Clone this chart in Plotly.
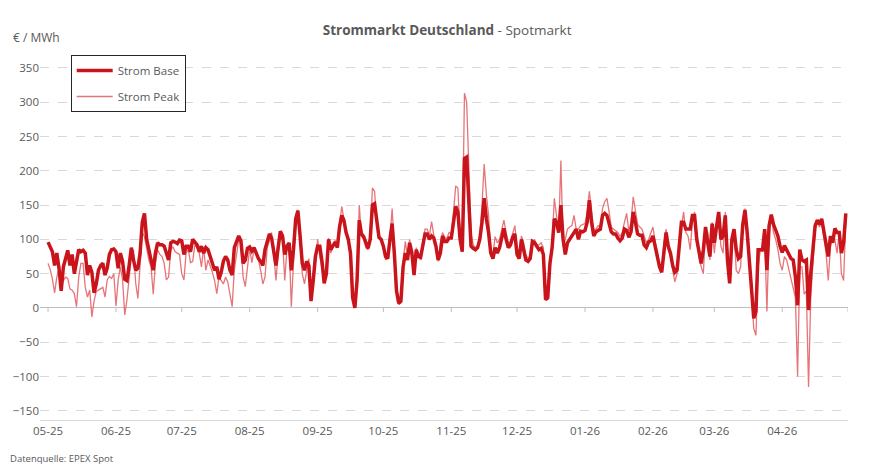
import plotly.graph_objects as go
import pandas as pd

# Tageswerte 01.05.2025 - 30.04.2026 (EUR/MWh)
start_date = "2025-05-01"

strom_base = [
    96, 90, 82, 62, 80, 58, 25, 60, 75, 84, 62, 78, 50, 70, 85, 82, 84, 80, 48, 62,
    52, 22, 35, 55, 62, 65, 48, 58, 78, 85, 86, 82, 58, 80, 68, 42, 40, 62, 88, 70,
    55, 58, 80, 125, 138, 100, 85, 65, 55, 80, 95, 92, 92, 90, 78, 70, 95, 97, 96, 94,
    99, 98, 78, 90, 90, 82, 100, 96, 92, 82, 90, 80, 88, 85, 75, 65, 55, 60, 42, 52,
    68, 75, 70, 55, 48, 88, 95, 105, 98, 65, 70, 87, 89, 83, 88, 80, 72, 68, 62, 85,
    98, 108, 102, 80, 62, 88, 112, 105, 78, 90, 95, 55, 85, 130, 142, 105, 65, 55, 68, 62,
    10, 40, 75, 90, 90, 68, 36, 50, 100, 85, 92, 96, 88, 118, 135, 128, 110, 100, 80, 15,
    0, 40, 128, 108, 104, 95, 87, 100, 150, 152, 125, 103, 100, 90, 75, 72, 100, 123, 80, 25,
    7, 10, 60, 80, 70, 95, 80, 48, 85, 75, 74, 90, 108, 108, 100, 105, 102, 90, 70, 80,
    105, 97, 97, 102, 102, 125, 148, 140, 100, 82, 218, 220, 160, 90, 87, 85, 88, 100, 125, 160,
    130, 110, 80, 72, 88, 80, 88, 100, 116, 100, 88, 92, 103, 108, 78, 72, 100, 85, 70, 68,
    72, 97, 95, 90, 85, 87, 78, 12, 15, 65, 88, 130, 125, 110, 150, 100, 78, 95, 100, 103,
    110, 115, 100, 112, 111, 113, 125, 157, 125, 105, 111, 113, 115, 135, 138, 135, 125, 111, 108, 108,
    102, 98, 102, 115, 113, 103, 111, 140, 125, 108, 106, 106, 92, 88, 96, 98, 105, 90, 80, 60,
    52, 85, 110, 90, 80, 62, 52, 55, 90, 125, 125, 115, 115, 115, 135, 135, 100, 80, 65, 85,
    118, 95, 75, 123, 95, 118, 140, 100, 105, 135, 70, 36, 100, 115, 85, 72, 75, 122, 143, 110,
    65, 25, -15, -5, 85, 85, 85, 115, 55, 120, 136, 122, 113, 105, 90, 81, 91, 85, 78, 72,
    70, 45, 4, 85, 70, 68, 70, -3, 50, 80, 120, 128, 122, 130, 110, 90, 75, 105, 95, 116,
    110, 110, 80, 95, 138,
]

strom_peak = [
    65, 56, 42, 22, 45, 58, 30, 40, 45, 43, 28, 26, 21, 2, 45, 65, 65, 30, 16, 26,
    -13, 10, 24, 26, 28, 30, 16, 41, 46, 43, 50, 3, 41, 60, 41, -10, 12, 45, 75, 85,
    36, 14, 55, 110, 104, 88, 70, 60, 20, 65, 85, 78, 75, 65, 41, 45, 85, 89, 82, 80,
    78, 50, 41, 80, 85, 66, 68, 92, 88, 80, 60, 88, 55, 70, 62, 52, 40, 21, 45, 40,
    35, 45, 38, 20, 2, 55, 80, 100, 95, 45, 31, 60, 87, 66, 85, 80, 70, 55, 35, 45,
    88, 98, 110, 80, 40, 80, 112, 100, 40, 85, 95, 2, 70, 130, 143, 90, 50, 35, 52, 72,
    20, 40, 68, 100, 75, 60, 40, 60, 102, 80, 88, 98, 95, 120, 148, 130, 110, 100, 75, 12,
    0, 45, 150, 105, 100, 88, 85, 100, 175, 170, 120, 105, 100, 87, 70, 77, 100, 145, 80, 30,
    5, 8, 65, 97, 75, 100, 75, 50, 88, 75, 70, 95, 115, 115, 105, 126, 105, 85, 68, 95,
    110, 102, 102, 110, 108, 140, 178, 175, 105, 90, 313, 300, 200, 110, 92, 88, 90, 105, 150, 210,
    165, 135, 80, 78, 104, 95, 100, 115, 128, 110, 95, 97, 108, 120, 88, 80, 105, 95, 78, 72,
    75, 95, 100, 92, 92, 95, 88, 30, 12, 70, 95, 160, 135, 110, 215, 90, 100, 115, 118, 120,
    135, 115, 115, 120, 122, 123, 140, 170, 140, 114, 115, 120, 118, 145, 155, 160, 140, 118, 115, 112,
    110, 104, 110, 125, 138, 112, 125, 162, 140, 122, 118, 115, 105, 95, 100, 108, 118, 96, 82, 62,
    55, 95, 115, 85, 75, 55, 38, 50, 92, 118, 140, 110, 105, 85, 125, 140, 110, 75, 60, 50,
    115, 110, 70, 125, 80, 115, 140, 90, 80, 140, 85, 55, 85, 115, 55, 50, 60, 125, 145, 105,
    75, 20, -30, -40, 60, 85, 82, 105, -5, 110, 135, 110, 100, 85, 65, 55, 75, 70, 55, 40,
    25, 15, -100, 60, 60, 20, 25, -115, 15, 60, 115, 125, 118, 125, 105, 80, 40, 90, 105, 100,
    80, 110, 50, 40, 130,
]

tick_dates = pd.date_range("2025-05-01", "2026-04-01", freq="MS")
tick_labels = ["05-25", "06-25", "07-25", "08-25", "09-25", "10-25",
               "11-25", "12-25", "01-26", "02-26", "03-26", "04-26"]
y_ticks = [350, 300, 250, 200, 150, 100, 50, 0, -50, -100, -150]

dates = pd.date_range(start_date, periods=len(strom_base), freq="D")

BASE_COLOR = "#C9141B"
PEAK_COLOR = "rgba(226, 92, 96, 0.85)"
GRID = "#D9D9D9"
TEXT = "#595959"
FONT = "Open Sans"

fig = go.Figure()

fig.add_trace(go.Scatter(
    x=dates, y=strom_peak, mode="lines", name="Strom Peak",
    line=dict(color=PEAK_COLOR, width=1.3),
    legendgroup="peak", legendrank=2,
))
fig.add_trace(go.Scatter(
    x=dates, y=strom_base, mode="lines", name="Strom Base",
    line=dict(color=BASE_COLOR, width=3.5),
    legendgroup="base", legendrank=1,
))

# kleine Striche an der Nulllinie
for d in list(tick_dates) + [pd.Timestamp("2026-05-01")]:
    fig.add_shape(type="line", xref="x", yref="y", x0=d, x1=d, y0=0, y1=-6,
                  line=dict(color="#BFBFBF", width=1), layer="below")

fig.update_xaxes(
    range=[pd.Timestamp("2025-04-27 08:00"), pd.Timestamp("2026-05-01")],
    tickvals=tick_dates, ticktext=tick_labels,
    showgrid=False, zeroline=False,
    showline=True, linecolor=GRID, linewidth=1,
    ticks="", tickfont=dict(size=11.5, color=TEXT, family=FONT),
)
fig.update_yaxes(
    range=[-163.3, 368.8],
    tickvals=y_ticks,
    showgrid=True, gridcolor=GRID, griddash="dash", gridwidth=1,
    zeroline=True, zerolinecolor="#BFBFBF", zerolinewidth=1,
    showline=False, ticks="",
    tickfont=dict(size=11.5, color=TEXT, family=FONT),
)

fig.update_layout(
    width=875, height=465,
    margin=dict(l=40, r=27, t=55, b=45),
    plot_bgcolor="white", paper_bgcolor="white",
    title=dict(
        text="<b>Strommarkt Deutschland</b> - Spotmarkt",
        x=0.511, xanchor="center", y=0.935, yanchor="middle",
        font=dict(size=13.5, color=TEXT, family=FONT),
    ),
    showlegend=True,
    legend=dict(
        x=0.038, y=1.0, xanchor="left", yanchor="top",
        bordercolor="#262626", borderwidth=1, bgcolor="white",
        font=dict(size=11.5, color=TEXT, family=FONT),
        tracegroupgap=7, itemwidth=36,
    ),
    annotations=[
        dict(text="€ / MWh", xref="paper", yref="paper", x=-0.036, y=1.048,
             xanchor="left", yanchor="middle", showarrow=False,
             font=dict(size=12, color=TEXT, family=FONT)),
        dict(text="Datenquelle: EPEX Spot", xref="paper", yref="paper", x=-0.04, y=-0.105,
             xanchor="left", yanchor="middle", showarrow=False,
             font=dict(size=9.5, color=TEXT, family=FONT)),
    ],
)

fig.write_html("out.html", config={"displayModeBar": False},
               post_script="document.body.style.margin='0';")
